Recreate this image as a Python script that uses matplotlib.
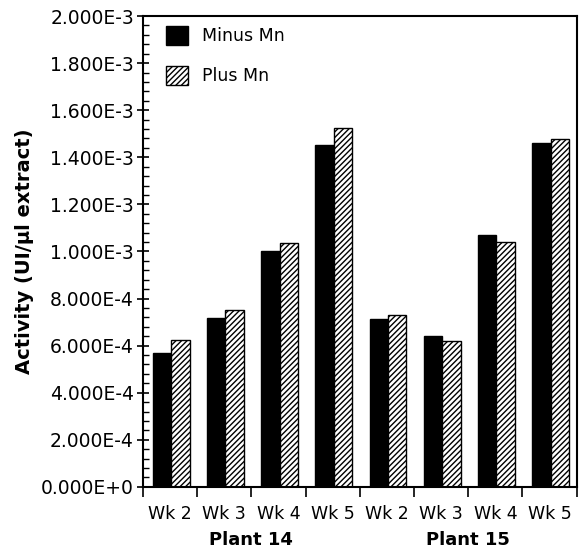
import matplotlib as mpl
mpl.use('Agg')
import matplotlib.pyplot as plt
from matplotlib.ticker import MultipleLocator, FuncFormatter
import numpy as np

# data
weeks = ['Wk 2', 'Wk 3', 'Wk 4', 'Wk 5', 'Wk 2', 'Wk 3', 'Wk 4', 'Wk 5']
plants = ['Plant 14', 'Plant 15']
minus_mn = [5.70e-4, 7.18e-4, 1.002e-3, 1.452e-3, 7.12e-4, 6.41e-4, 1.068e-3, 1.461e-3]
plus_mn = [6.22e-4, 7.52e-4, 1.036e-3, 1.524e-3, 7.28e-4, 6.20e-4, 1.040e-3, 1.478e-3]

mpl.rcParams['font.family'] = ['DejaVu Sans']
mpl.rcParams['hatch.linewidth'] = 1.0

fig = plt.figure(figsize=(5.79, 5.52), dpi=100)
ax = fig.add_axes([0.247, 0.118, 0.749, 0.853])

x = np.arange(len(weeks))
w = 0.34
ax.bar(x - w / 2 + 0.02, minus_mn, w, color='black', edgecolor='black',
       label='Minus Mn', linewidth=1)
ax.bar(x + w / 2 + 0.02, plus_mn, w, color='white', edgecolor='black',
       hatch='//////', label='Plus Mn', linewidth=1)

ax.set_xlim(-0.5, len(weeks) - 0.5)
ax.set_ylim(0, 2.0e-3)

def sci(v, pos):
    s = '%.3E' % v
    mant, exp = s.split('E')
    return '%sE%s%d' % (mant, '-' if int(exp) < 0 else '+', abs(int(exp)))

ax.yaxis.set_major_locator(MultipleLocator(2.0e-4))
ax.yaxis.set_minor_locator(MultipleLocator(4.0e-5))
ax.yaxis.set_major_formatter(FuncFormatter(sci))
ax.tick_params(axis='y', which='major', direction='inout', length=9, width=1.2,
               labelsize=13.5, pad=2)
ax.tick_params(axis='y', which='minor', direction='in', length=4, width=1)

# category boundaries as ticks, labels in between
ax.set_xticks(np.arange(len(weeks) + 1) - 0.5)
ax.set_xticklabels([])
ax.set_xticks(x, minor=True)
ax.set_xticklabels(weeks, minor=True, fontsize=12.5)
ax.tick_params(axis='x', which='major', direction='out', length=7, width=1.2)
ax.tick_params(axis='x', which='minor', length=0, pad=13)

for sp in ax.spines.values():
    sp.set_linewidth(1.5)

ax.set_ylabel('Activity (UI/\u00b5l extract)', fontsize=14, fontweight='bold',
              labelpad=5)

for i, p in enumerate(plants):
    ax.text(i * 4 + 1.5, -0.113, p, transform=ax.get_xaxis_transform(),
            ha='center', va='center', fontsize=13, fontweight='bold')

ax.legend(loc='upper left', frameon=False, fontsize=12.5, handlelength=1.25,
          handleheight=1.25, labelspacing=1.2, borderaxespad=0.2,
          handletextpad=0.8, bbox_to_anchor=(0.03, 1.0))

fig.savefig('out.png', dpi=100)
